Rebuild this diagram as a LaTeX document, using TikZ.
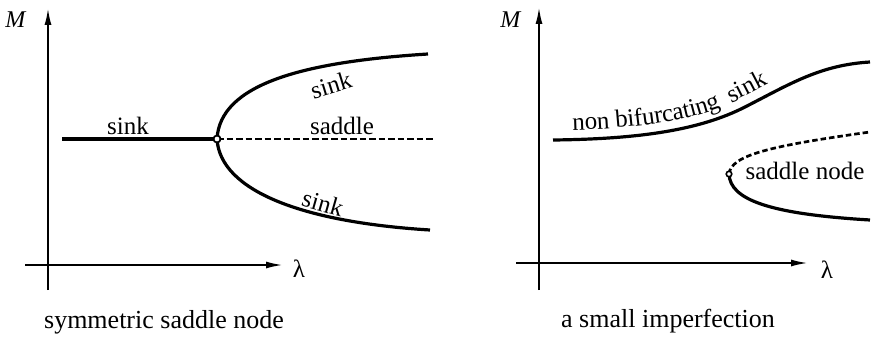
\documentclass[tikz,border=0pt]{standalone}
\usepackage{fontspec}
\setmainfont{Liberation Serif}
\usetikzlibrary{arrows.meta,decorations.text}
\newcommand\lblfont{\fontsize{25}{30}\selectfont}
\newcommand\capfont{\fontsize{26}{31}\selectfont}
\newcommand\axfont{\fontsize{24}{28}\selectfont}
\newcommand\lamfont{\fontsize{25}{29}\selectfont}
\begin{document}
\begin{tikzpicture}[x=1pt,y=1pt,
  axis/.style={line width=2pt,-{Latex[length=17pt,width=7pt]}},
  branch/.style={line width=3.2pt},
  unstable/.style={line width=2.7pt,dash pattern=on 6.5pt off 3pt},
  lbl/.style={font=\lblfont,inner sep=0pt},
  captext/.style={font=\capfont,inner sep=0pt,anchor=base},
  axlbl/.style={font=\axfont,inner sep=0pt},
  lamlbl/.style={font=\lamfont,inner sep=0pt},
  bifpt/.style={circle,draw,fill=white,line width=1.8pt,inner sep=0pt,minimum size=7pt},
  bifpts/.style={circle,draw,fill=white,line width=1.6pt,inner sep=0pt,minimum size=5.5pt}
]
\useasboundingbox (0,0) rectangle (872,-337);
% ---------- left panel ----------
\coordinate (LvB) at (48,-290);
\coordinate (LvT) at (48,-8);
\coordinate (LhL) at (25,-265);
\coordinate (LhR) at (283,-265);
\draw[axis] (LvB) -- (LvT);
\draw[axis] (LhL) -- (LhR);
\node[axlbl] (LM) at (16,-20) {\textit{M}};
\node[lamlbl] (Llam) at (299,-269) {λ};
\coordinate (P) at (217,-139);
\coordinate (Lstart) at (62,-139);
\coordinate (Lend) at (435,-139);
\coordinate (Lup) at (428,-54);
\coordinate (Llow) at (430,-230);
\draw[branch] (Lstart) -- (P);
\draw[unstable] (P) -- (Lend);
\draw[branch] (P) .. controls (220,-85) and (300,-62) .. (Lup);
\draw[branch] (P) .. controls (220,-190) and (300,-222) .. (Llow);
\node[bifpt] (Pc) at (P) {};
\node[lbl] (s1) at (128,-126) {sink};
\node[lbl] (sd) at (342,-126) {saddle};
\node[lbl,rotate=17] (s2) at (331,-85) {sink};
\node[lbl,rotate=-16] (s3) at (323,-203) {sink};
\node[captext] (capL) at (164,-328) {symmetric saddle node};
% ---------- right panel ----------
\coordinate (RvB) at (539,-290);
\coordinate (RvT) at (539,-7);
\coordinate (RhL) at (516,-263);
\coordinate (RhR) at (808,-263);
\draw[axis] (RvB) -- (RvT);
\draw[axis] (RhL) -- (RhR);
\node[axlbl] (RM) at (511,-20) {\textit{M}};
\node[lamlbl] (Rlam) at (827,-270) {λ};
\coordinate (Q) at (729,-174);
\coordinate (Rs) at (553,-140);
\coordinate (Rm) at (745,-107);
\coordinate (Re) at (870,-62);
\coordinate (Rdu) at (870,-132);
\coordinate (Rdl) at (870,-220);
\draw[branch,postaction={decorate,
   decoration={text along path,raise=9.5pt,text align={left indent=20pt},
   text={|\lblfont|non bifurcating{ }{ }sink}}}]
   (Rs) .. controls (640,-139) and (700,-130) .. (Rm)
        .. controls (790,-84) and (820,-65) .. (Re);
\draw[unstable,dash pattern=on 5.5pt off 3pt] (Q) .. controls (731,-155) and (770,-146) .. (Rdu);
\draw[branch] (Q) .. controls (730,-200) and (770,-214) .. (Rdl);
\node[bifpts] (Qc) at (Q) {};
\node[lbl,anchor=base] (sn) at (805,-179.5) {saddle node};
\node[captext] (capR) at (668,-327) {a small imperfection};
\end{tikzpicture}
\end{document}
